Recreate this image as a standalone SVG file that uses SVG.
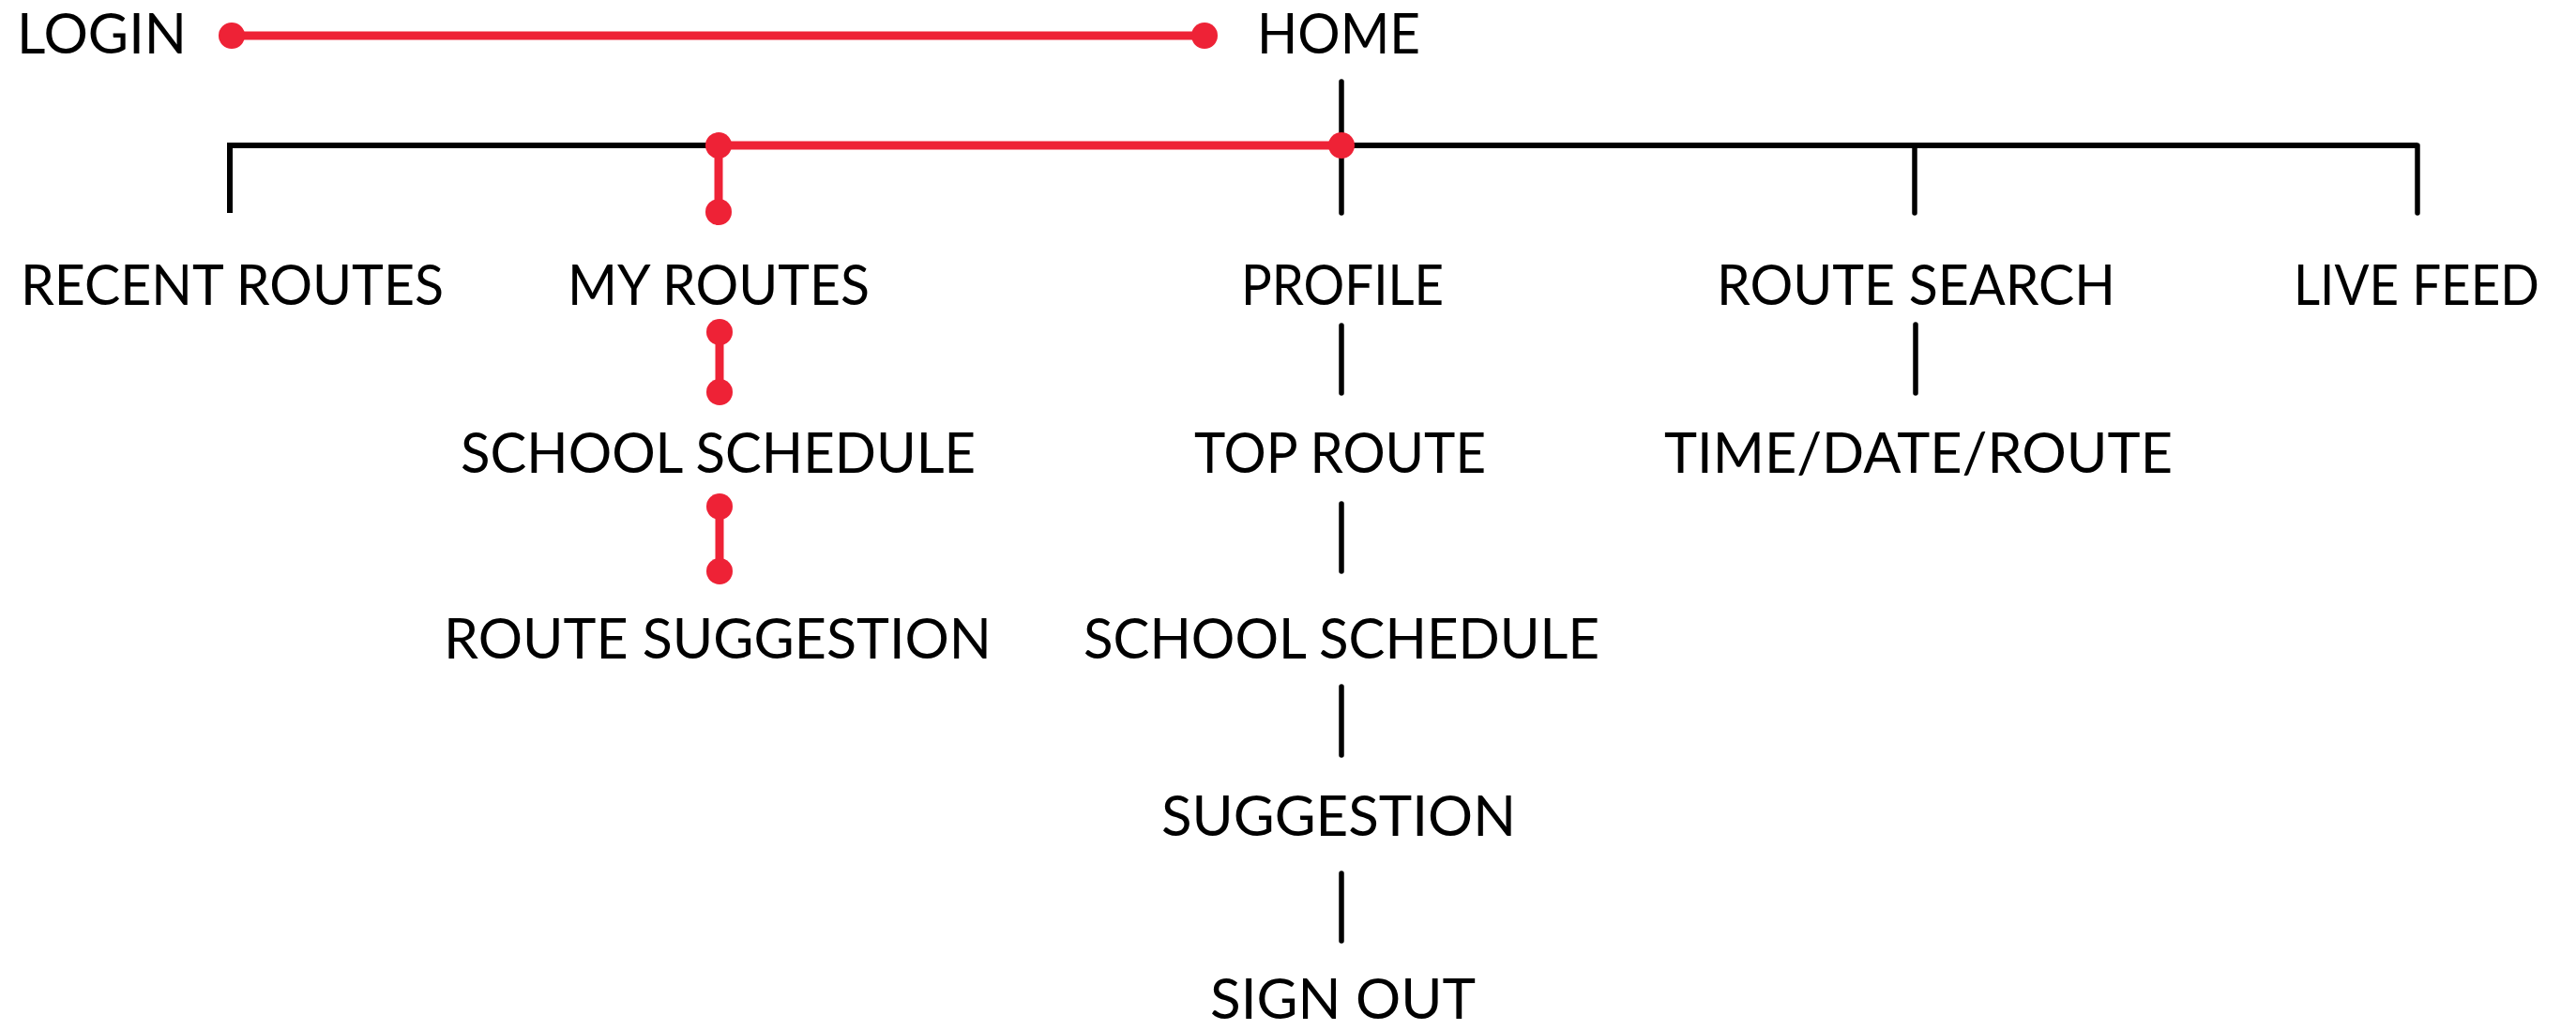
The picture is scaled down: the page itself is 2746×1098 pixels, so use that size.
<svg xmlns="http://www.w3.org/2000/svg" width="2746" height="1098" viewBox="0 0 2746 1098">
<style>
text{font-family:"Lato","Liberation Sans",sans-serif;font-size:60px;fill:#000;}
.blk{stroke:#000;stroke-width:5.5;fill:none;stroke-linecap:round;}
.blkh{stroke:#000;stroke-width:6;fill:none;stroke-linejoin:miter;stroke-linecap:butt;}
.red{stroke:#ee2236;stroke-width:9;fill:none;}
.dot{fill:#ee2236;}
</style>
<rect width="2746" height="1098" fill="#fff"/>
<g id="connectors">
  <path class="blkh" d="M245,227 V155 H2577"/>
  <line class="blk" x1="1430" y1="87" x2="1430" y2="227"/>
  <line class="blk" x1="2041" y1="155" x2="2041" y2="227"/>
  <line class="blk" x1="2577" y1="155" x2="2577" y2="227"/>
  <line class="blk" x1="1430" y1="347" x2="1430" y2="419"/>
  <line class="blk" x1="1430" y1="537" x2="1430" y2="609"/>
  <line class="blk" x1="1430" y1="732" x2="1430" y2="805"/>
  <line class="blk" x1="1430" y1="931" x2="1430" y2="1003"/>
  <line class="blk" x1="2042" y1="346" x2="2042" y2="419"/>
  <line class="red" x1="247" y1="38" x2="1284" y2="38"/>
  <circle class="dot" cx="247" cy="38" r="14"/>
  <circle class="dot" cx="1284" cy="38" r="14"/>
  <line class="red" x1="766" y1="155" x2="1430" y2="155"/>
  <line class="red" x1="766" y1="155" x2="766" y2="226"/>
  <circle class="dot" cx="766" cy="155" r="14"/>
  <circle class="dot" cx="1430" cy="155" r="14"/>
  <circle class="dot" cx="766" cy="226" r="14"/>
  <line class="red" x1="767" y1="354" x2="767" y2="418"/>
  <circle class="dot" cx="767" cy="354" r="14"/>
  <circle class="dot" cx="767" cy="418" r="14"/>
  <line class="red" x1="767" y1="540" x2="767" y2="609"/>
  <circle class="dot" cx="767" cy="540" r="14"/>
  <circle class="dot" cx="767" cy="609" r="14"/>
</g>
<g id="login"><text x="18" y="57" textLength="181" lengthAdjust="spacingAndGlyphs">LOGIN</text></g>
<g id="home"><text x="1340" y="57" textLength="174" lengthAdjust="spacingAndGlyphs">HOME</text></g>
<g id="recent-routes"><text x="22" y="325" textLength="451" lengthAdjust="spacingAndGlyphs">RECENT ROUTES</text></g>
<g id="my-routes"><text x="605" y="325" textLength="322" lengthAdjust="spacingAndGlyphs">MY ROUTES</text></g>
<g id="profile"><text x="1323" y="325" textLength="216" lengthAdjust="spacingAndGlyphs">PROFILE</text></g>
<g id="route-search"><text x="1830" y="325" textLength="425" lengthAdjust="spacingAndGlyphs">ROUTE SEARCH</text></g>
<g id="live-feed"><text x="2445" y="325" textLength="262" lengthAdjust="spacingAndGlyphs">LIVE FEED</text></g>
<g id="school-schedule-1"><text x="491" y="504" textLength="549" lengthAdjust="spacingAndGlyphs">SCHOOL SCHEDULE</text></g>
<g id="top-route"><text x="1273" y="504" textLength="311" lengthAdjust="spacingAndGlyphs">TOP ROUTE</text></g>
<g id="time-date-route"><text x="1774" y="504" textLength="542" lengthAdjust="spacingAndGlyphs">TIME/DATE/ROUTE</text></g>
<g id="route-suggestion"><text x="473" y="702" textLength="584" lengthAdjust="spacingAndGlyphs">ROUTE SUGGESTION</text></g>
<g id="school-schedule-2"><text x="1155" y="702" textLength="550" lengthAdjust="spacingAndGlyphs">SCHOOL SCHEDULE</text></g>
<g id="suggestion"><text x="1238" y="891" textLength="378" lengthAdjust="spacingAndGlyphs">SUGGESTION</text></g>
<g id="sign-out"><text x="1290" y="1086" font-size="58" textLength="283" lengthAdjust="spacingAndGlyphs">SIGN OUT</text></g>
</svg>
